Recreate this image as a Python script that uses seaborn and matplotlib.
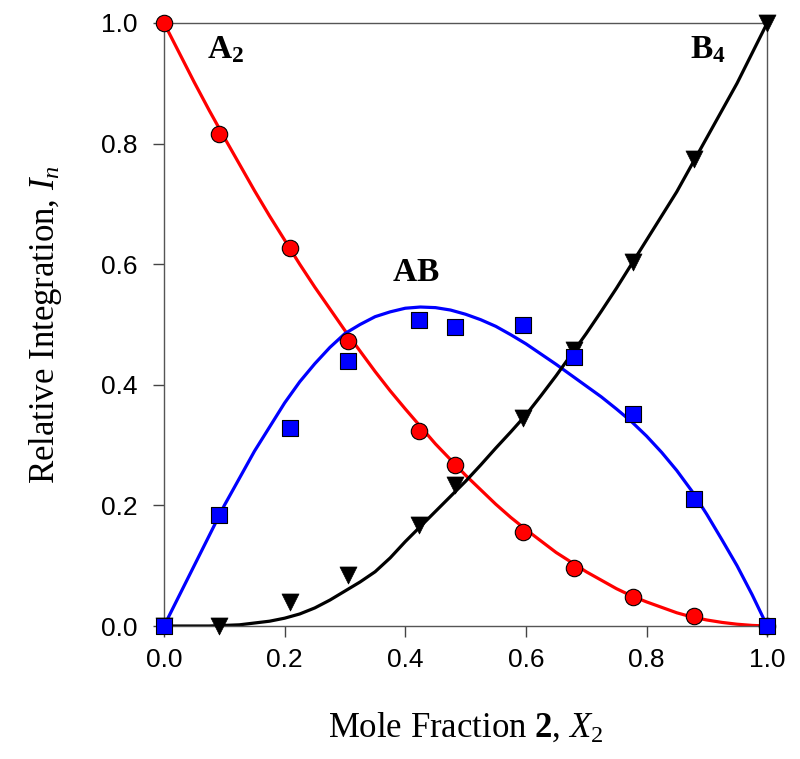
import numpy as np
import pandas as pd
import matplotlib
matplotlib.use("Agg")
import matplotlib.pyplot as plt
import seaborn as sns

# ---- data ----
x_pts = [0.0, 0.091, 0.209, 0.305, 0.423, 0.483, 0.595, 0.680, 0.778, 0.879, 1.0]
a2_pts = [1.0, 0.816, 0.627, 0.473, 0.323, 0.267, 0.156, 0.096, 0.048, 0.017, 0.0]
ab_pts = [0.0, 0.184, 0.328, 0.440, 0.507, 0.496, 0.499, 0.446, 0.352, 0.211, 0.0]
b4_pts = [0.0, 0.0, 0.040, 0.085, 0.167, 0.234, 0.345, 0.458, 0.603, 0.775, 1.0]

x_fit = [0.0, 0.025, 0.05, 0.075, 0.10, 0.125, 0.15, 0.175, 0.20, 0.225,
         0.25, 0.275, 0.30, 0.325, 0.35, 0.375, 0.40, 0.425, 0.45, 0.475,
         0.50, 0.525, 0.55, 0.575, 0.60, 0.625, 0.65, 0.675, 0.70, 0.725,
         0.75, 0.775, 0.80, 0.825, 0.85, 0.875, 0.90, 0.925, 0.95, 0.975, 1.0]
a2_fit = [1.0, 0.951, 0.902, 0.855, 0.81, 0.766, 0.722, 0.68, 0.64, 0.60,
          0.562, 0.526, 0.49, 0.456, 0.422, 0.39, 0.36, 0.331, 0.302, 0.276,
          0.25, 0.226, 0.202, 0.18, 0.16, 0.141, 0.122, 0.106, 0.09, 0.076,
          0.062, 0.05, 0.04, 0.031, 0.022, 0.015, 0.01, 0.006, 0.003, 0.001, 0.0]
ab_fit = [0.0, 0.05, 0.10, 0.15, 0.20, 0.245, 0.29, 0.33, 0.37, 0.405,
          0.435, 0.462, 0.485, 0.50, 0.513, 0.521, 0.527, 0.529, 0.528, 0.524,
          0.517, 0.508, 0.497, 0.483, 0.468, 0.451, 0.434, 0.416, 0.398, 0.38,
          0.36, 0.339, 0.315, 0.288, 0.258, 0.224, 0.185, 0.143, 0.10, 0.052, 0.0]
b4_fit = [0.0, 0.0, 0.0, 0.0, 0.001, 0.002, 0.005, 0.008, 0.013, 0.02,
          0.03, 0.043, 0.058, 0.073, 0.09, 0.113, 0.14, 0.165, 0.19, 0.215,
          0.24, 0.267, 0.295, 0.322, 0.35, 0.382, 0.415, 0.45, 0.485, 0.522,
          0.56, 0.60, 0.64, 0.68, 0.72, 0.765, 0.81, 0.855, 0.90, 0.95, 1.0]

x_ticks = [0.0, 0.2, 0.4, 0.6, 0.8, 1.0]
y_ticks = [0.0, 0.2, 0.4, 0.6, 0.8, 1.0]

sns.set_theme(style="ticks")
plt.rcParams['font.family'] = ['Liberation Sans', 'DejaVu Sans']
plt.rcParams['mathtext.fontset'] = 'custom'
plt.rcParams['mathtext.rm'] = 'Liberation Serif'
plt.rcParams['mathtext.it'] = 'Liberation Serif:italic'
plt.rcParams['mathtext.bf'] = 'Liberation Serif:bold'
plt.rcParams['text.color'] = 'black'
plt.rcParams['axes.labelcolor'] = 'black'

fig = plt.figure(figsize=(8.0, 7.59), dpi=100)
ax = fig.add_axes([0.205, 0.1752, 0.754, 0.7945])

fit = pd.DataFrame({"x": x_fit, "A2": a2_fit, "AB": ab_fit, "B4": b4_fit})
pts = pd.DataFrame({"x": x_pts, "A2": a2_pts, "AB": ab_pts, "B4": b4_pts})

sns.lineplot(data=fit, x="x", y="A2", color="#ff0000", lw=2.3, ax=ax, zorder=2)
sns.lineplot(data=fit, x="x", y="AB", color="#0000ff", lw=2.3, ax=ax, zorder=2)
sns.lineplot(data=fit, x="x", y="B4", color="black", lw=2.3, ax=ax, zorder=2)

sns.scatterplot(data=pts, x="x", y="A2", marker="o", s=140, color="#ff0000",
                edgecolor="black", linewidth=0.8, ax=ax, zorder=3, clip_on=False)
sns.scatterplot(data=pts, x="x", y="B4", marker="v", s=150, color="black",
                edgecolor="black", linewidth=0.5, ax=ax, zorder=3, clip_on=False)
sns.scatterplot(data=pts, x="x", y="AB", marker="s", s=135, color="#0000ff",
                edgecolor="black", linewidth=0.8, ax=ax, zorder=4, clip_on=False)

ax.set_xlim(0, 1)
ax.set_ylim(0, 1)
ax.set_xticks(x_ticks)
ax.set_yticks(y_ticks)
ax.set_xticklabels([f"{v:.1f}" for v in x_ticks])
ax.set_yticklabels([f"{v:.1f}" for v in y_ticks])
ax.tick_params(axis='both', which='both', direction='out', length=8, width=1,
               color='#444444', labelsize=19, labelcolor='black',
               top=False, right=False)
ax.tick_params(axis='x', pad=8)
ax.tick_params(axis='y', pad=11)
for sp in ax.spines.values():
    sp.set_visible(True)
    sp.set_color('#555555')
    sp.set_linewidth(1.0)

ax.set_xlabel(r'Mole Fraction $\mathbf{2}$, $X_2$', fontsize=25,
              family='Liberation Serif')
ax.set_ylabel(r'Relative Integration, $I_n$', fontsize=25,
              family='Liberation Serif')
ax.xaxis.set_label_coords(0.5, -0.142)
ax.yaxis.set_label_coords(-0.165, 0.5)

ax.text(0.071, 0.955, r'$\mathbf{A}_\mathbf{2}$', transform=ax.transAxes,
        fontsize=24, ha='left', va='center')
ax.text(0.872, 0.955, r'$\mathbf{B}_\mathbf{4}$', transform=ax.transAxes,
        fontsize=24, ha='left', va='center')
ax.text(0.378, 0.587, r'$\mathbf{AB}$', transform=ax.transAxes,
        fontsize=24, ha='left', va='center')

fig.savefig("out.png", dpi=100, facecolor='white')
